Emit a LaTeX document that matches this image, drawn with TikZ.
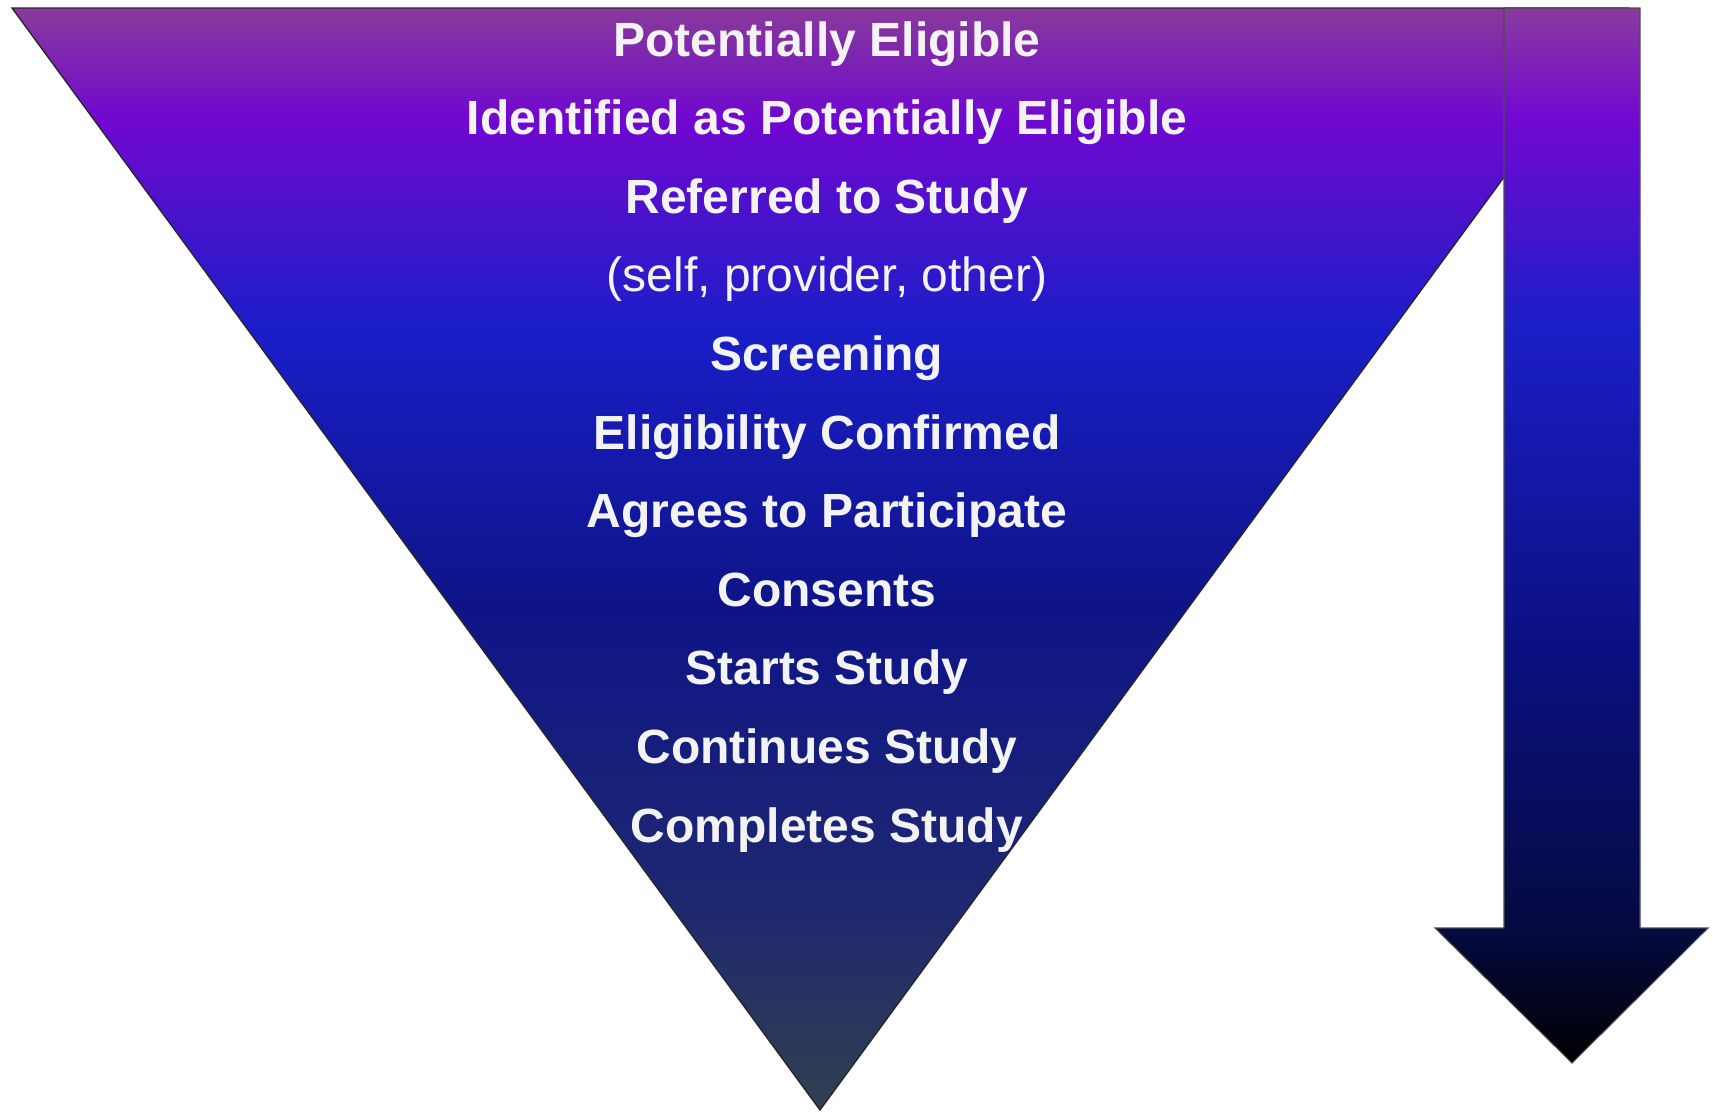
\documentclass[tikz,border=0pt]{standalone}
\usepackage{fontspec}
\setmainfont{Liberation Sans}
\usepackage{xcolor}
\usepackage{tikz}
\usetikzlibrary{positioning}

\definecolor{funtop}{HTML}{883A9A}
\definecolor{funviolet}{HTML}{7008D0}
\definecolor{funblue}{HTML}{1A1EC8}
\definecolor{funnavy}{HTML}{0E1488}
\definecolor{fundusk}{HTML}{1E2870}
\definecolor{funslate}{HTML}{304050}
\definecolor{arrtop}{HTML}{8A3A9E}
\definecolor{arrviolet}{HTML}{7208D2}
\definecolor{arrblue}{HTML}{1C1EC8}
\definecolor{arrnavy}{HTML}{0A1080}
\definecolor{arrdeep}{HTML}{050A40}
\definecolor{stagewhite}{HTML}{F3F3F3}

% vertical fills (0bp = bottom, path box spans 25bp--75bp)
\pgfdeclareverticalshading{funnelshade}{100bp}{
  color(0bp)=(funslate); color(25bp)=(funslate);
  color(34.5bp)=(fundusk); color(48bp)=(funnavy);
  color(60.4bp)=(funblue); color(69.9bp)=(funviolet);
  color(75bp)=(funtop); color(100bp)=(funtop)}
\pgfdeclareverticalshading{arrowshade}{100bp}{
  color(0bp)=(black); color(25bp)=(black);
  color(31.3bp)=(arrdeep); color(44.6bp)=(arrnavy);
  color(60.2bp)=(arrblue); color(69.7bp)=(arrviolet);
  color(75bp)=(arrtop); color(100bp)=(arrtop)}

\tikzset{
  stage/.style={
    font=\fontsize{36}{40}\selectfont\bfseries, text=stagewhite,
    text height=27pt, text depth=8pt, inner sep=0pt, align=center
  },
  note/.style={stage, font=\fontsize{36}{40}\selectfont},
  funnel/.style={draw=black!85, line width=1pt, shading=funnelshade},
  flowarr/.style={draw=black!70, line width=0.8pt, shading=arrowshade}
}

\begin{document}
\begin{tikzpicture}[x=0.75pt, y=-0.75pt, node distance=23.55pt]
\useasboundingbox (0,0) rectangle (1713,1111);

% Funnel
\coordinate (ftl)  at (12,8);
\coordinate (ftr)  at (1628,8);
\coordinate (fbot) at (820,1110);
\path[funnel] (ftl) -- (ftr) -- (fbot) -- cycle;

% Side arrow
\path[flowarr] (1504,8) -- (1640,8) -- (1640,928) -- (1708,928)
  -- (1572,1063) -- (1435,928) -- (1504,928) -- cycle;

% Stages, top to bottom
\node[stage, anchor=base] (pot) at (827,56) {Potentially Eligible};
\node[stage, below=of pot]  (ident) {Identified as Potentially Eligible};
\node[stage, below=of ident] (refer) {Referred to Study};
\node[note,  below=of refer] (src)   {(self, provider, other)};
\node[stage, below=of src]   (scr)   {Screening};
\node[stage, below=of scr]   (conf)  {Eligibility Confirmed};
\node[stage, below=of conf]  (agree) {Agrees to Participate};
\node[stage, below=of agree] (cons)  {Consents};
\node[stage, below=of cons]  (start) {Starts Study};
\node[stage, below=of start] (cont)  {Continues Study};
\node[stage, below=of cont]  (done)  {Completes Study};

\end{tikzpicture}
\end{document}
